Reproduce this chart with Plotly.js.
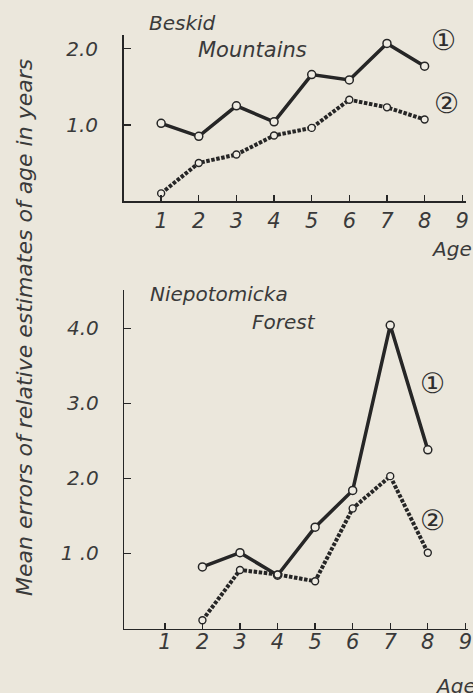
<!DOCTYPE html>
<html>
<head>
<meta charset="utf-8">
<script src="https://cdn.plot.ly/plotly-3.0.1.min.js"></script>
<style>
html,body{margin:0;padding:0;background:#ebe7dc;}
#chart{width:473px;height:693px;}
</style>
</head>
<body>
<div id="chart"></div>
<script>
// ---- data ----
const ages = [1, 2, 3, 4, 5, 6, 7, 8];
const beskidCurve1 = [1.02, 0.85, 1.25, 1.04, 1.66, 1.59, 2.07, 1.77];
const beskidCurve2 = [0.10, 0.50, 0.61, 0.86, 0.96, 1.33, 1.23, 1.07];
const forestAges = [2, 3, 4, 5, 6, 7, 8];
const forestCurve1 = [0.82, 1.01, 0.71, 1.35, 1.84, 4.04, 2.38];
const forestCurve2 = [0.11, 0.78, 0.72, 0.63, 1.60, 2.03, 1.01];
const xTickVals = [1, 2, 3, 4, 5, 6, 7, 8, 9];
const topYTickVals = [1, 2];
const topYTickText = ['1.0', '2.0'];
const botYTickVals = [1, 2, 3, 4];
const botYTickText = ['1 .0', '2.0', '3.0', '4.0'];

// ---- layout helpers ----
const W = 473, H = 693;
const px = x => x / W;
const py = y => 1 - y / H;
const FONT = 'DejaVu Sans, Liberation Sans, sans-serif';
const TXT = '#3a3a3a';
const INK = '#262626';

function solid(x, y, xa, ya) {
  return {x: x, y: y, xaxis: xa, yaxis: ya, mode: 'lines+markers', type: 'scatter',
    line: {color: INK, width: 3.5},
    marker: {symbol: 'circle', size: 8, color: '#efece3', line: {color: INK, width: 1.5}},
    hoverinfo: 'skip', showlegend: false};
}
function dotted(x, y, xa, ya) {
  return {x: x, y: y, xaxis: xa, yaxis: ya, mode: 'lines+markers', type: 'scatter',
    line: {color: INK, width: 4, dash: '3.5px,1.6px'},
    marker: {symbol: 'circle', size: 7, color: '#efece3', line: {color: INK, width: 1.4}},
    hoverinfo: 'skip', showlegend: false};
}

const data = [
  solid(ages, beskidCurve1, 'x', 'y'),
  dotted(ages, beskidCurve2, 'x', 'y'),
  solid(forestAges, forestCurve1, 'x2', 'y2'),
  dotted(forestAges, forestCurve2, 'x2', 'y2')
];

const tickFont = {family: FONT, size: 20, color: TXT, style: 'italic'};
const xCommon = {
  tickvals: xTickVals, ticks: 'inside', ticklen: 6, tickwidth: 1.3, tickcolor: INK,
  showline: true, linecolor: INK, linewidth: 1.5, showgrid: false, zeroline: false,
  tickfont: {family: FONT, size: 21, color: TXT, style: 'italic'},
  fixedrange: true
};
const yCommon = {
  ticks: 'inside', ticklen: 7, tickwidth: 1.3, tickcolor: INK,
  showline: true, linecolor: INK, linewidth: 1.5, showgrid: false, zeroline: false,
  tickfont: tickFont, ticklabelstandoff: 20, fixedrange: true
};

const ann = (text, x, y, size, opts) => Object.assign({
  text: text, xref: 'paper', yref: 'paper', x: px(x), y: py(y),
  xanchor: 'left', yanchor: 'middle', showarrow: false,
  font: {family: FONT, size: size, color: TXT, style: 'italic'}
}, opts || {});
const circ = (text, x, y) => ann(text, x, y, 28, {xanchor: 'center',
  font: {family: FONT, size: 28, color: '#2e2e2e'}});

const layout = {
  width: W, height: H,
  margin: {l: 0, r: 0, t: 0, b: 0},
  paper_bgcolor: '#ebe7dc', plot_bgcolor: 'rgba(0,0,0,0)',
  showlegend: false,
  xaxis: Object.assign({}, xCommon, {domain: [px(123.5), px(466)], range: [0, 9.1], anchor: 'y',
    ticklabelstandoff: 0}),
  yaxis: Object.assign({}, yCommon, {domain: [py(201), py(35)], range: [0, 2.18], anchor: 'x',
    tickvals: topYTickVals, ticktext: topYTickText}),
  xaxis2: Object.assign({}, xCommon, {domain: [px(124.3), px(468)], range: [-0.08, 9.07], anchor: 'y2',
    ticklabelstandoff: -6}),
  yaxis2: Object.assign({}, yCommon, {domain: [py(628.5), py(290)], range: [0, 4.51], anchor: 'x2',
    tickvals: botYTickVals, ticktext: botYTickText}),
  annotations: [
    ann('Mean errors of relative estimates of age in years', 24, 328, 22, {xanchor: 'center', textangle: -90}),
    ann('Beskid', 147, 23, 20),
    ann('Mountains', 196, 50, 21),
    ann('Niepotomicka', 148, 294, 20),
    ann('Forest', 250, 322, 20),
    ann('Age', 451, 249, 20, {xanchor: 'center'}),
    ann('Age', 455, 686, 20, {xanchor: 'center'}),
    circ('①', 443, 40),
    circ('②', 446, 103),
    circ('①', 432, 383),
    circ('②', 432, 520)
  ]
};

Plotly.newPlot('chart', data, layout, {staticPlot: true, displayModeBar: false});
</script>
</body>
</html>
